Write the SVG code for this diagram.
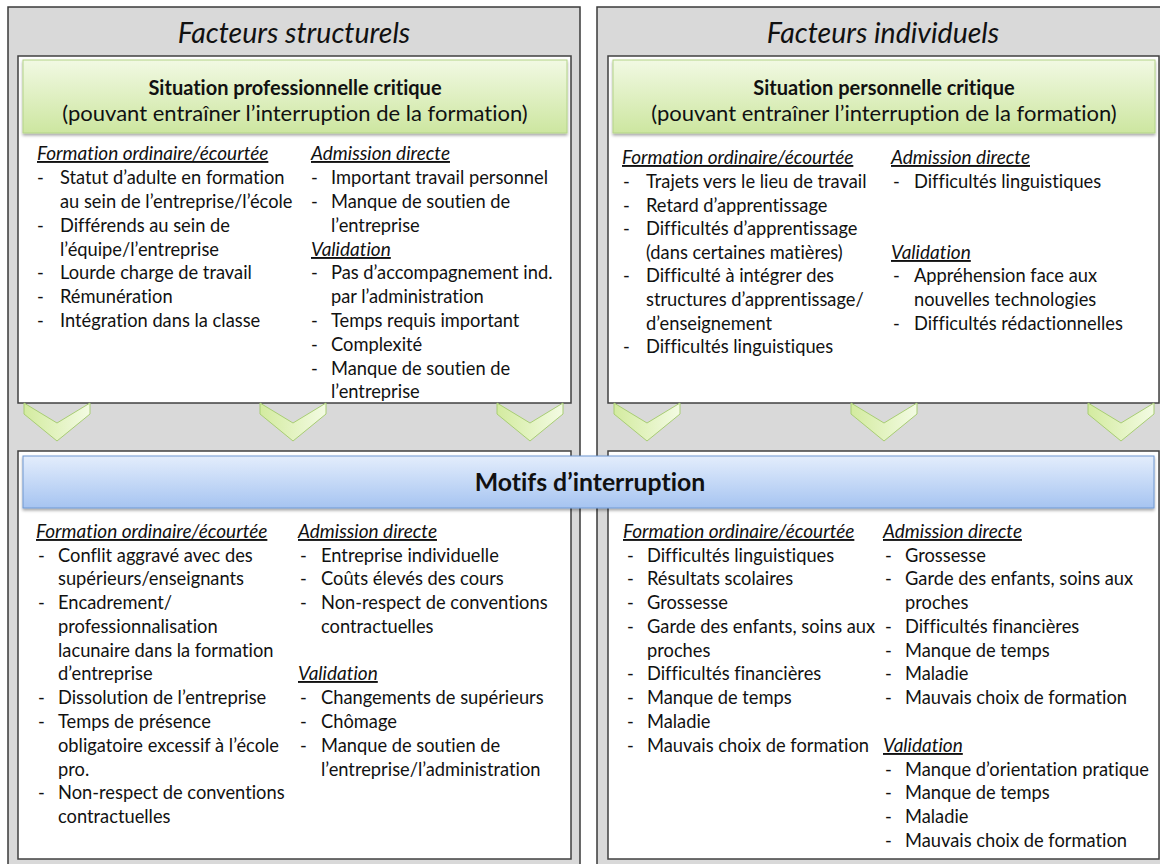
<svg xmlns="http://www.w3.org/2000/svg" width="1160" height="864" viewBox="0 0 1160 864">
<defs>
<linearGradient id="gGreen" x1="0" y1="0" x2="0" y2="1">
<stop offset="0" stop-color="#f1f9e3"/>
<stop offset="1" stop-color="#cde6a0"/>
</linearGradient>
<linearGradient id="gChev" x1="0" y1="0" x2="1" y2="0">
<stop offset="0" stop-color="#d3eb9f"/>
<stop offset="1" stop-color="#f3fbe3"/>
</linearGradient>
<linearGradient id="gBlue" x1="0" y1="0" x2="0" y2="1">
<stop offset="0" stop-color="#e3edfc"/>
<stop offset="1" stop-color="#a6c4f1"/>
</linearGradient>
<filter id="sh" x="-5%" y="-20%" width="110%" height="150%">
<feDropShadow dx="0" dy="2" stdDeviation="1.5" flood-color="#000" flood-opacity="0.35"/>
</filter>
<style>
.outer{fill:#d9d9d9;stroke:#3a3a3a;stroke-width:1.5}
.inner{fill:#fff;stroke:#404040;stroke-width:1.5}
.hdr{fill:url(#gGreen);stroke:#b3d488;stroke-width:1}
.chev{fill:url(#gChev);stroke:#a8cd74;stroke-width:1}
.ban{fill:url(#gBlue);stroke:#6f98d2;stroke-width:1}
text{font-family:Lato,"Open Sans","Liberation Sans",sans-serif;fill:#111;font-variant-ligatures:none}
.title{font-size:28.5px;font-style:italic;text-anchor:middle}
.hb{font-size:20px;font-weight:bold;text-anchor:middle}
.hs{font-size:22px;text-anchor:middle}
.bt{font-size:24.8px;font-weight:bold;text-anchor:middle}
.t{font-size:18.3px}
.h{font-size:19px;font-style:italic;text-decoration:underline}
</style>
</defs>

<g id="panel-structurels">
<rect class="outer" x="8" y="7" width="572" height="870"/>
<text class="title" x="294" y="43">Facteurs structurels</text>
<rect class="inner" x="18" y="56" width="553" height="347"/>
<rect class="inner" x="18" y="451" width="553" height="408"/>
</g>

<g id="panel-individuels">
<rect class="outer" x="597" y="7" width="580" height="870"/>
<text class="title" x="883" y="43">Facteurs individuels</text>
<rect class="inner" x="608" y="56" width="551" height="347"/>
<rect class="inner" x="608" y="451" width="551" height="408"/>
</g>

<g id="node-situation-professionnelle">
<rect class="hdr" filter="url(#sh)" x="23" y="60" width="544" height="73"/>
<text class="hb" x="295" y="95">Situation professionnelle critique</text>
<text class="hs" x="295" y="121">(pouvant entraîner l’interruption de la formation)</text>
<g id="list-pro-ord">
<text class="h" x="37" y="160">Formation ordinaire/écourtée</text>
<text class="t" x="37" y="184">-</text><text class="t" x="60" y="184">Statut d’adulte en formation</text>
<text class="t" x="60" y="208">au sein de l’entreprise/l’école</text>
<text class="t" x="37" y="232">-</text><text class="t" x="60" y="232">Différends au sein de</text>
<text class="t" x="60" y="256">l’équipe/l’entreprise</text>
<text class="t" x="37" y="279">-</text><text class="t" x="60" y="279">Lourde charge de travail</text>
<text class="t" x="37" y="303">-</text><text class="t" x="60" y="303">Rémunération</text>
<text class="t" x="37" y="327">-</text><text class="t" x="60" y="327">Intégration dans la classe</text>
</g>
<g id="list-pro-adm">
<text class="h" x="311" y="160">Admission directe</text>
<text class="t" x="311" y="184">-</text><text class="t" x="331" y="184">Important travail personnel</text>
<text class="t" x="311" y="208">-</text><text class="t" x="331" y="208">Manque de soutien de</text>
<text class="t" x="331" y="232">l’entreprise</text>
<text class="h" x="311" y="256">Validation</text>
<text class="t" x="311" y="279">-</text><text class="t" x="331" y="279">Pas d’accompagnement ind.</text>
<text class="t" x="331" y="303">par l’administration</text>
<text class="t" x="311" y="327">-</text><text class="t" x="331" y="327">Temps requis important</text>
<text class="t" x="311" y="351">-</text><text class="t" x="331" y="351">Complexité</text>
<text class="t" x="311" y="375">-</text><text class="t" x="331" y="375">Manque de soutien de</text>
<text class="t" x="331" y="398">l’entreprise</text>
</g>
</g>

<g id="node-situation-personnelle">
<rect class="hdr" filter="url(#sh)" x="613" y="60" width="542" height="73"/>
<text class="hb" x="884" y="95">Situation personnelle critique</text>
<text class="hs" x="884" y="121">(pouvant entraîner l’interruption de la formation)</text>
<g id="list-per-ord">
<text class="h" x="622" y="164">Formation ordinaire/écourtée</text>
<text class="t" x="623" y="188">-</text><text class="t" x="646" y="188">Trajets vers le lieu de travail</text>
<text class="t" x="623" y="212">-</text><text class="t" x="646" y="212">Retard d’apprentissage</text>
<text class="t" x="623" y="235">-</text><text class="t" x="646" y="235">Difficultés d’apprentissage</text>
<text class="t" x="646" y="259">(dans certaines matières)</text>
<text class="t" x="623" y="282">-</text><text class="t" x="646" y="282">Difficulté à intégrer des</text>
<text class="t" x="646" y="306">structures d’apprentissage/</text>
<text class="t" x="646" y="330">d’enseignement</text>
<text class="t" x="623" y="353">-</text><text class="t" x="646" y="353">Difficultés linguistiques</text>
</g>
<g id="list-per-adm">
<text class="h" x="891" y="164">Admission directe</text>
<text class="t" x="893" y="188">-</text><text class="t" x="914" y="188">Difficultés linguistiques</text>
<text class="h" x="891" y="259">Validation</text>
<text class="t" x="893" y="282">-</text><text class="t" x="914" y="282">Appréhension face aux</text>
<text class="t" x="914" y="306">nouvelles technologies</text>
<text class="t" x="893" y="330">-</text><text class="t" x="914" y="330">Difficultés rédactionnelles</text>
</g>
</g>

<g id="connectors">
<polygon class="chev" points="24,403 57,423 90,403 90,414 57,441 24,414"/>
<polygon class="chev" points="260,403 293,423 326,403 326,414 293,441 260,414"/>
<polygon class="chev" points="497,403 530,423 563,403 563,414 530,441 497,414"/>
<polygon class="chev" points="614,403 647,423 680,403 680,414 647,441 614,414"/>
<polygon class="chev" points="851,403 884,423 917,403 917,414 884,441 851,414"/>
<polygon class="chev" points="1088,403 1121,423 1154,403 1154,414 1121,441 1088,414"/>
</g>

<g id="node-motifs">
<rect class="ban" filter="url(#sh)" x="23" y="456" width="1131" height="52"/>
<text class="bt" x="590" y="491">Motifs d’interruption</text>
</g>

<g id="list-motifs-struct">
<text class="h" x="36" y="538">Formation ordinaire/écourtée</text>
<text class="t" x="38" y="562">-</text><text class="t" x="58" y="562">Conflit aggravé avec des</text>
<text class="t" x="58" y="585">supérieurs/enseignants</text>
<text class="t" x="38" y="609">-</text><text class="t" x="58" y="609">Encadrement/</text>
<text class="t" x="58" y="633">professionnalisation</text>
<text class="t" x="58" y="657">lacunaire dans la formation</text>
<text class="t" x="58" y="680">d’entreprise</text>
<text class="t" x="38" y="704">-</text><text class="t" x="58" y="704">Dissolution de l’entreprise</text>
<text class="t" x="38" y="728">-</text><text class="t" x="58" y="728">Temps de présence</text>
<text class="t" x="58" y="752">obligatoire excessif à l’école</text>
<text class="t" x="58" y="776">pro.</text>
<text class="t" x="38" y="799">-</text><text class="t" x="58" y="799">Non-respect de conventions</text>
<text class="t" x="58" y="823">contractuelles</text>

<text class="h" x="298" y="538">Admission directe</text>
<text class="t" x="300" y="562">-</text><text class="t" x="321" y="562">Entreprise individuelle</text>
<text class="t" x="300" y="585">-</text><text class="t" x="321" y="585">Coûts élevés des cours</text>
<text class="t" x="300" y="609">-</text><text class="t" x="321" y="609">Non-respect de conventions</text>
<text class="t" x="321" y="633">contractuelles</text>
<text class="h" x="298" y="680">Validation</text>
<text class="t" x="300" y="704">-</text><text class="t" x="321" y="704">Changements de supérieurs</text>
<text class="t" x="300" y="728">-</text><text class="t" x="321" y="728">Chômage</text>
<text class="t" x="300" y="752">-</text><text class="t" x="321" y="752">Manque de soutien de</text>
<text class="t" x="321" y="776">l’entreprise/l’administration</text>
</g>

<g id="list-motifs-indiv">
<text class="h" x="623" y="538">Formation ordinaire/écourtée</text>
<text class="t" x="627" y="562">-</text><text class="t" x="647" y="562">Difficultés linguistiques</text>
<text class="t" x="627" y="585">-</text><text class="t" x="647" y="585">Résultats scolaires</text>
<text class="t" x="627" y="609">-</text><text class="t" x="647" y="609">Grossesse</text>
<text class="t" x="627" y="633">-</text><text class="t" x="647" y="633">Garde des enfants, soins aux</text>
<text class="t" x="647" y="657">proches</text>
<text class="t" x="627" y="680">-</text><text class="t" x="647" y="680">Difficultés financières</text>
<text class="t" x="627" y="704">-</text><text class="t" x="647" y="704">Manque de temps</text>
<text class="t" x="627" y="728">-</text><text class="t" x="647" y="728">Maladie</text>
<text class="t" x="627" y="752">-</text><text class="t" x="647" y="752">Mauvais choix de formation</text>

<text class="h" x="883" y="538">Admission directe</text>
<text class="t" x="885" y="562">-</text><text class="t" x="905" y="562">Grossesse</text>
<text class="t" x="885" y="585">-</text><text class="t" x="905" y="585">Garde des enfants, soins aux</text>
<text class="t" x="905" y="609">proches</text>
<text class="t" x="885" y="633">-</text><text class="t" x="905" y="633">Difficultés financières</text>
<text class="t" x="885" y="657">-</text><text class="t" x="905" y="657">Manque de temps</text>
<text class="t" x="885" y="680">-</text><text class="t" x="905" y="680">Maladie</text>
<text class="t" x="885" y="704">-</text><text class="t" x="905" y="704">Mauvais choix de formation</text>
<text class="h" x="883" y="752">Validation</text>
<text class="t" x="885" y="776">-</text><text class="t" x="905" y="776">Manque d’orientation pratique</text>
<text class="t" x="885" y="799">-</text><text class="t" x="905" y="799">Manque de temps</text>
<text class="t" x="885" y="823">-</text><text class="t" x="905" y="823">Maladie</text>
<text class="t" x="885" y="847">-</text><text class="t" x="905" y="847">Mauvais choix de formation</text>
</g>
</svg>
